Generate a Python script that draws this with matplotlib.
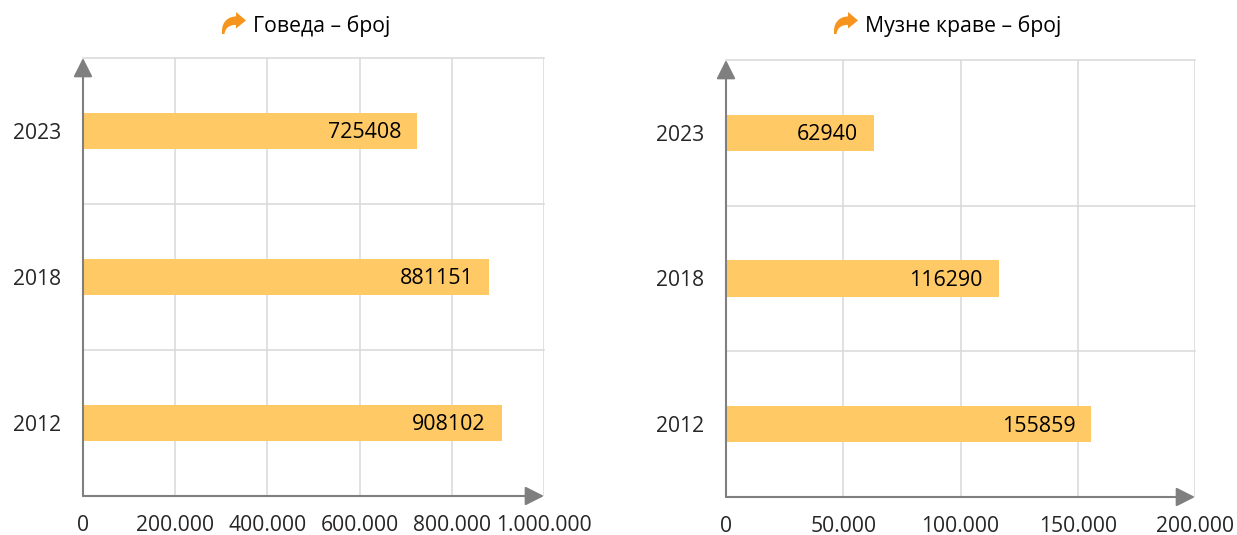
import matplotlib
matplotlib.use("Agg")
from matplotlib import pyplot as plt
from matplotlib.patches import PathPatch
from matplotlib.path import Path
from matplotlib.transforms import Affine2D

plt.rcParams['font.family'] = ['Open Sans', 'DejaVu Sans']

years = ['2012', '2018', '2023']
cattle = [908102, 881151, 725408]
dairy = [155859, 116290, 62940]
cattle_ticks = [0, 200000, 400000, 600000, 800000, 1000000]
dairy_ticks = [0, 50000, 100000, 150000, 200000]
cattle_title = 'Говеда – број'
dairy_title = 'Музне краве – број'

W, H = 1237, 535
BAR = '#FFC966'
GRID = '#D9D9D9'
AXIS = '#7F7F7F'
TEXT = '#262626'


def fmt(v):
    return '{:,}'.format(v).replace(',', '.')


def drawIcon(fig, dx, dy):
    # curved arrow next to the title, pixels measured from image top
    verts = [(222, 31), (222, 22), (228, 16.5), (236, 16.5), (236, 12), (246, 20.5),
             (236, 28.5), (236, 25), (230, 24.5), (225, 28), (224.5, 34), (222, 34), (222, 31)]
    codes = [Path.MOVETO, Path.CURVE4, Path.CURVE4, Path.CURVE4, Path.LINETO, Path.LINETO,
             Path.LINETO, Path.LINETO, Path.CURVE4, Path.CURVE4, Path.CURVE4, Path.LINETO, Path.CLOSEPOLY]
    tr = Affine2D().translate(dx, dy).scale(1, -1).translate(0, H)
    fig.add_artist(PathPatch(Path(verts, codes), transform=tr, fc='#F7941E', ec='none'))


def drawPanel(fig, box, values, ticks, title, titleX, titleY, iconDx, iconDy):
    left, top, right, bottom = box
    ax = fig.add_axes([left / W, 1 - bottom / H, (right - left) / W, (bottom - top) / H])
    pos = list(range(len(years)))
    ax.barh(pos, values, height=0.25, color=BAR, zorder=3)
    ax.set_xlim(ticks[0], ticks[-1])
    ax.set_ylim(-0.5, 2.5)

    for s in ax.spines.values():
        s.set_visible(False)
    for t in ticks[1:]:
        ax.axvline(t, color=GRID, lw=1.1, zorder=1)
    for y in [0.5, 1.5, 2.5]:
        ax.axhline(y, color=GRID, lw=1.1, zorder=1, clip_on=False)

    arrow = dict(arrowstyle='-|>,head_length=1.15,head_width=0.58', color=AXIS, lw=1.5,
                 shrinkA=0, shrinkB=0)
    ax.annotate('', xy=(0, 1), xytext=(0, 0), xycoords='axes fraction', arrowprops=arrow, zorder=5)
    ax.annotate('', xy=(1, 0), xytext=(0, 0), xycoords='axes fraction', arrowprops=arrow, zorder=5)

    ax.set_yticks(pos, years)
    ax.set_xticks(ticks, [fmt(t) for t in ticks])
    ax.tick_params(axis='y', length=0, pad=16, labelsize=15.2, labelcolor=TEXT)
    ax.tick_params(axis='x', length=0, pad=14, labelsize=15.2, labelcolor=TEXT)

    for p, v in zip(pos, values):
        ax.annotate(str(v), xy=(v, p), xytext=(-16, -2), textcoords='offset pixels',
                    ha='right', va='center', fontsize=15.4, color='black', zorder=6)

    fig.text(titleX / W, 1 - titleY / H, title, ha='left', va='center', fontsize=15.3, color='black')
    drawIcon(fig, iconDx, iconDy)


fig = plt.figure(figsize=(W / 100, H / 100), dpi=100, facecolor='white')
drawPanel(fig, (83, 58, 544, 496), cattle, cattle_ticks, cattle_title, 253, 26, 0, 0)
drawPanel(fig, (726, 60, 1195, 497), dairy, dairy_ticks, dairy_title, 865, 26, 612, 0)
fig.savefig('out.png', dpi=100)
